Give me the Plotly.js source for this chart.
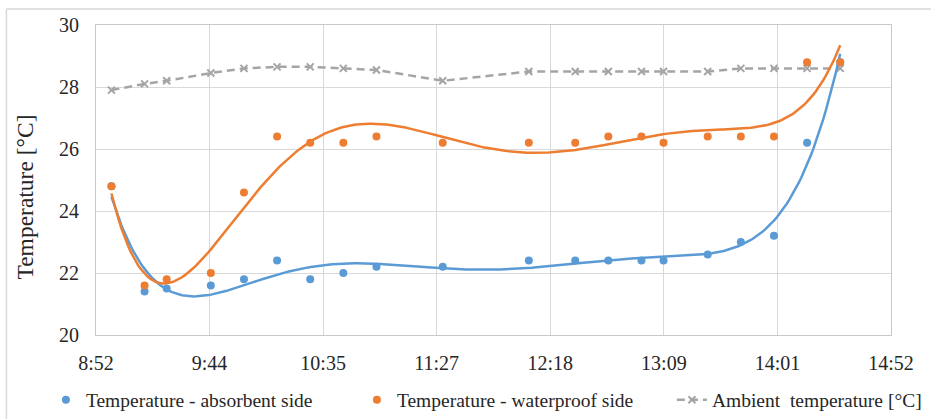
<!DOCTYPE html>
<html>
<head>
<meta charset="utf-8">
<script src="https://cdn.plot.ly/plotly-3.0.1.min.js"></script>
<style>
  html, body { margin: 0; padding: 0; background: #ffffff; }
  #chart { width: 931px; height: 419px; }
</style>
</head>
<body>
<div id="chart"></div>
<script>
// ---- data ----
const times = ['8:59','9:14','9:24','9:44','9:59','10:14','10:29','10:44','10:59','11:29',
               '12:08','12:29','12:44','12:59','13:09','13:29','13:44','13:59','14:14','14:29'];
const absorbent = [24.8, 21.4, 21.5, 21.6, 21.8, 22.4, 21.8, 22.0, 22.2, 22.2,
                   22.4, 22.4, 22.4, 22.4, 22.4, 22.6, 23.0, 23.2, 26.2, 28.8];
const waterproof = [24.8, 21.6, 21.8, 22.0, 24.6, 26.4, 26.2, 26.2, 26.4, 26.2,
                    26.2, 26.2, 26.4, 26.4, 26.2, 26.4, 26.4, 26.4, 28.8, 28.8];
const ambient = [27.9, 28.1, 28.2, 28.45, 28.6, 28.65, 28.65, 28.6, 28.55, 28.2,
                 28.5, 28.5, 28.5, 28.5, 28.5, 28.5, 28.6, 28.6, 28.6, 28.6];
const xTickLabels = ['8:52','9:44','10:35','11:27','12:18','13:09','14:01','14:52'];
const yTickValues = [20, 22, 24, 26, 28, 30];
const seriesNames = ['Temperature - absorbent side', 'Temperature - waterproof side', 'Ambient  temperature [°C]'];
const yTitle = 'Temperature [°C]';
const trendOrder = 6;

// ---- helpers ----
function toMin(s) { const p = s.split(':'); return (+p[0]) * 60 + (+p[1]); }
const xs = times.map(toMin);

function polyfit(x, y, deg) {
  const m = deg + 1;
  const mn = Math.min(...x), mxv = Math.max(...x);
  const c0 = (mn + mxv) / 2, sc = (mxv - mn) / 2;
  const u = x.map(v => (v - c0) / sc);
  const A = [], b = [];
  for (let i = 0; i < m; i++) {
    A.push(new Array(m).fill(0)); b.push(0);
    for (let k = 0; k < u.length; k++) b[i] += y[k] * Math.pow(u[k], i);
    for (let j = 0; j < m; j++) for (let k = 0; k < u.length; k++) A[i][j] += Math.pow(u[k], i + j);
  }
  for (let col = 0; col < m; col++) {
    let piv = col;
    for (let r = col + 1; r < m; r++) if (Math.abs(A[r][col]) > Math.abs(A[piv][col])) piv = r;
    [A[col], A[piv]] = [A[piv], A[col]]; [b[col], b[piv]] = [b[piv], b[col]];
    for (let r = col + 1; r < m; r++) {
      const f = A[r][col] / A[col][col];
      for (let c = col; c < m; c++) A[r][c] -= f * A[col][c];
      b[r] -= f * b[col];
    }
  }
  const coef = new Array(m).fill(0);
  for (let r = m - 1; r >= 0; r--) {
    let s = b[r];
    for (let c = r + 1; c < m; c++) s -= A[r][c] * coef[c];
    coef[r] = s / A[r][r];
  }
  return v => { const t = (v - c0) / sc; let s = 0; for (let i = m - 1; i >= 0; i--) s = s * t + coef[i]; return s; };
}

function trend(y) {
  const f = polyfit(xs, y, trendOrder);
  const x0 = xs[0], x1 = xs[xs.length - 1], N = 300;
  const tx = [], ty = [];
  for (let i = 0; i <= N; i++) { const v = x0 + (x1 - x0) * i / N; tx.push(v); ty.push(f(v)); }
  return { x: tx, y: ty };
}

const tStart = toMin(xTickLabels[0]), tEnd = toMin(xTickLabels[xTickLabels.length - 1]);
const tStep = (tEnd - tStart) / (xTickLabels.length - 1);
const xTickVals = xTickLabels.map((_, i) => tStart + i * tStep);

const BLUE = '#5B9BD5', ORANGE = '#ED7D31', GRAY = '#A5A5A5';
const FONT = '"Liberation Serif", "Times New Roman", serif';
const TXT = '#262626';

const tA = trend(absorbent), tW = trend(waterproof);

const traces = [
  { x: xs, y: ambient, type: 'scatter', mode: 'lines+markers', name: seriesNames[2],
    line: { color: GRAY, width: 2.5, dash: '8px,5px' },
    marker: { symbol: 'x-thin', size: 7, line: { color: GRAY, width: 2 }, color: GRAY },
    legendrank: 3 },
  { x: tA.x, y: tA.y, type: 'scatter', mode: 'lines', showlegend: false, hoverinfo: 'skip',
    line: { color: BLUE, width: 2.5 } },
  { x: xs, y: absorbent, type: 'scatter', mode: 'markers', name: seriesNames[0],
    marker: { color: BLUE, size: 8 }, legendrank: 1, legendwidth: 266 },
  { x: tW.x, y: tW.y, type: 'scatter', mode: 'lines', showlegend: false, hoverinfo: 'skip',
    line: { color: ORANGE, width: 2.5 } },
  { x: xs, y: waterproof, type: 'scatter', mode: 'markers', name: seriesNames[1],
    marker: { color: ORANGE, size: 8 }, legendrank: 2, legendwidth: 270 }
];

const layout = {
  width: 931, height: 419,
  margin: { l: 96, r: 40, t: 25, b: 84, autoexpand: false },
  paper_bgcolor: '#ffffff', plot_bgcolor: '#ffffff',
  font: { family: FONT, size: 20, color: TXT },
  showlegend: true,
  legend: {
    orientation: 'h', x: -0.063, xanchor: 'left', y: -0.21, yanchor: 'middle',
    font: { family: FONT, size: 19.5, color: TXT },
    bgcolor: 'rgba(0,0,0,0)', traceorder: 'normal'
  },
  xaxis: {
    range: [tStart, tEnd], tickmode: 'array', tickvals: xTickVals, ticktext: xTickLabels,
    showgrid: true, gridcolor: '#D9D9D9', gridwidth: 1,
    showline: true, linecolor: '#C8C8C8', linewidth: 1, mirror: true,
    zeroline: false, ticks: '', ticklabelstandoff: 10,
    tickfont: { family: FONT, size: 20, color: TXT }
  },
  yaxis: {
    range: [20, 30], tickmode: 'array', tickvals: yTickValues,
    showgrid: true, gridcolor: '#D9D9D9', gridwidth: 1,
    showline: true, linecolor: '#C8C8C8', linewidth: 1, mirror: true,
    zeroline: false, ticks: '', ticklabelstandoff: 12,
    tickfont: { family: FONT, size: 20, color: TXT }
  },
  annotations: [
    { text: yTitle, xref: 'paper', yref: 'paper', x: -0.0893, y: 0.4435,
      xanchor: 'center', yanchor: 'middle', textangle: -90, showarrow: false,
      font: { family: FONT, size: 23.5, color: TXT } }
  ],
  shapes: [
    { type: 'line', xref: 'paper', yref: 'paper', x0: -0.1127, x1: 1.06, y0: 1.0516, y1: 1.0516,
      line: { color: '#D9D9D9', width: 1.5 } },
    { type: 'line', xref: 'paper', yref: 'paper', x0: -0.1127, x1: -0.1127, y0: 1.0516, y1: -0.3,
      line: { color: '#D9D9D9', width: 1.5 } }
  ]
};

Plotly.newPlot('chart', traces, layout, { displayModeBar: false, staticPlot: true });
</script>
</body>
</html>
